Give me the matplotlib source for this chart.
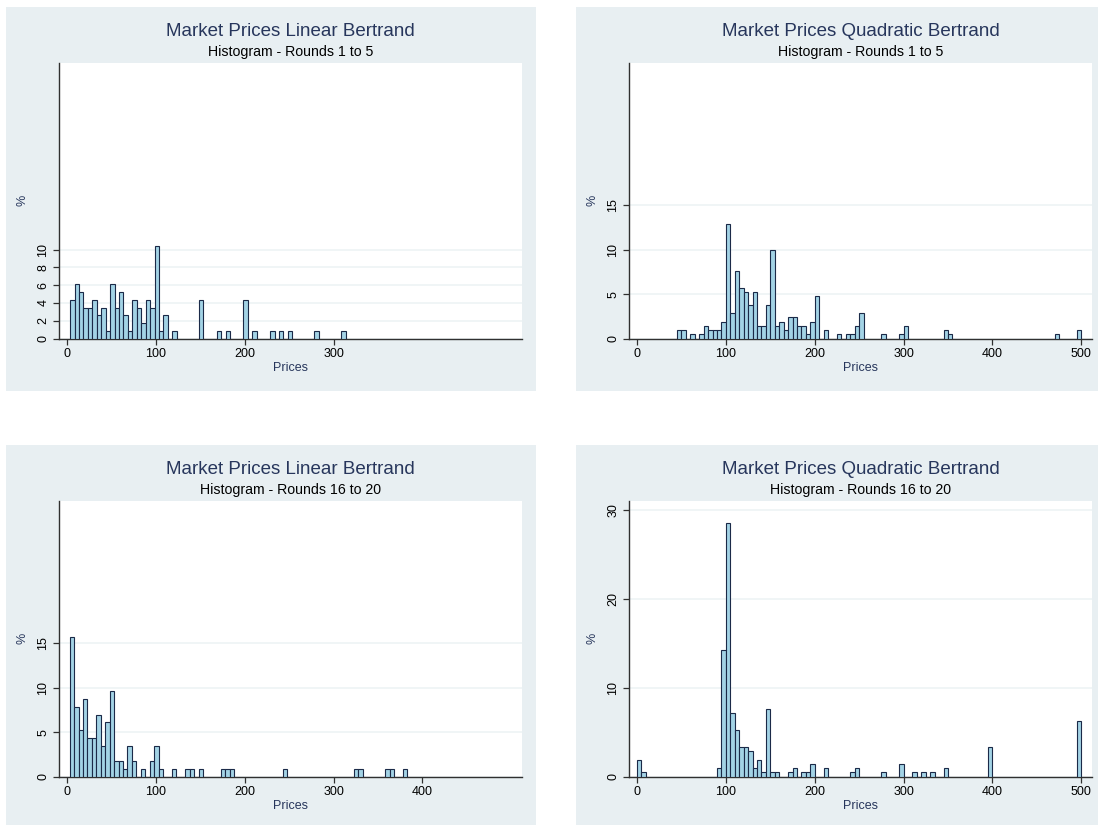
import numpy as np
import matplotlib
matplotlib.use("Agg")
import matplotlib.pyplot as plt
from matplotlib.patches import Rectangle

plt.rcParams['font.family'] = ['Liberation Sans', 'DejaVu Sans']

# Linear Bertrand, rounds 1-5 (115 observations, bins of width 5)
lin_early_left = [3.5, 8.5, 13.5, 18.5, 23.5, 28.5, 33.5, 38.5, 43.5, 48.5,
                  53.5, 58.5, 63.5, 68.5, 73.5, 78.5, 83.5, 88.5, 93.5, 98.5,
                  103.5, 108.5, 118.5, 148.5, 168.5, 178.5, 198.5, 208.5,
                  228.5, 238.5, 248.5, 278.5, 308.5]
lin_early_count = [5, 7, 6, 4, 4, 5, 3, 4, 1, 7,
                   4, 6, 3, 1, 5, 4, 2, 5, 4, 12,
                   1, 3, 1, 5, 1, 1, 5, 1,
                   1, 1, 1, 1, 1]
lin_early_n = 115

# Quadratic Bertrand, rounds 1-5 (210 observations)
quad_early_left = [45, 50, 60, 70, 75, 80, 85, 90, 95, 100,
                   105, 110, 115, 120, 125, 130, 135, 140, 145, 150,
                   155, 160, 165, 170, 175, 180, 185, 190, 195, 200,
                   210, 225, 235, 240, 245, 250, 275, 295, 300, 345,
                   350, 470, 495]
quad_early_count = [2, 2, 1, 1, 3, 2, 2, 2, 4, 27,
                    6, 16, 12, 11, 8, 11, 3, 3, 8, 21,
                    3, 4, 2, 5, 5, 3, 3, 1, 4, 10,
                    2, 1, 1, 1, 3, 6, 1, 1, 3, 2,
                    1, 1, 2]
quad_early_n = 210

# Linear Bertrand, rounds 16-20 (115 observations)
lin_late_left = [3, 8, 13, 18, 23, 28, 33, 38, 43, 48,
                 53, 58, 63, 68, 73, 83, 93, 98, 103, 118,
                 133, 138, 148, 173, 178, 183, 243, 323, 328, 358,
                 363, 378]
lin_late_count = [18, 9, 6, 10, 5, 5, 8, 4, 7, 11,
                  2, 2, 1, 4, 2, 1, 2, 4, 1, 1,
                  1, 1, 1, 1, 1, 1, 1, 1, 1, 1,
                  1, 1]
lin_late_n = 115

# Quadratic Bertrand, rounds 16-20 (210 observations)
quad_late_left = [0, 5, 90, 95, 100, 105, 110, 115, 120, 125,
                  130, 135, 140, 145, 150, 155, 170, 175, 185, 190,
                  195, 210, 240, 245, 275, 295, 310, 320, 330, 345,
                  395, 495]
quad_late_count = [4, 1, 2, 30, 60, 15, 11, 7, 7, 6,
                   2, 4, 1, 16, 1, 1, 1, 2, 1, 1,
                   3, 2, 1, 2, 1, 3, 1, 1, 1, 2,
                   7, 13]
quad_late_n = 210

W, H = 1098, 825
bg = '#e8eff2'
grid_col = '#edf3f5'
fill = '#a3d3e5'
edge = '#1b2a48'
navy = '#27365c'

fig = plt.figure(figsize=(W / 100, H / 100), dpi=100)
fig.patch.set_facecolor('white')


def frac(x0, y0, x1, y1):
    return [x0 / W, 1 - y1 / H, (x1 - x0) / W, (y1 - y0) / H]


panels = [
    (lin_early_left, lin_early_count, lin_early_n, 'Market Prices Linear Bertrand',
     'Histogram - Rounds 1 to 5', [0, 2, 4, 6, 8, 10], [0, 100, 200, 300], 6, 7),
    (quad_early_left, quad_early_count, quad_early_n, 'Market Prices Quadratic Bertrand',
     'Histogram - Rounds 1 to 5', [0, 5, 10, 15], [0, 100, 200, 300, 400, 500], 576, 7),
    (lin_late_left, lin_late_count, lin_late_n, 'Market Prices Linear Bertrand',
     'Histogram - Rounds 16 to 20', [0, 5, 10, 15], [0, 100, 200, 300, 400], 6, 445),
    (quad_late_left, quad_late_count, quad_late_n, 'Market Prices Quadratic Bertrand',
     'Histogram - Rounds 16 to 20', [0, 10, 20, 30], [0, 100, 200, 300, 400, 500], 576, 445),
]

for left, count, n, title, sub, yt, xt, px, py in panels:
    # panel background, kept behind the axes
    fig.patches.append(Rectangle((px / W, 1 - (py + 384) / H), 530 / W, 384 / H,
                                 transform=fig.transFigure, facecolor=bg,
                                 edgecolor='none', zorder=-5))
    ax0 = px + 53
    ax = fig.add_axes(frac(ax0, py + 56, ax0 + 463, py + 331.5))
    ax.set_zorder(2)
    ax.set_facecolor('white')
    pct = np.array(count) / n * 100
    ax.bar(left, pct, width=5, align='edge', color=fill, edgecolor=edge,
           linewidth=0.8, zorder=3)
    ax.set_xlim(-9, 512)
    ax.set_ylim(0, 31)
    ax.set_yticks(yt)
    ax.set_xticks(xt)
    ax.yaxis.grid(True, color=grid_col, linewidth=1.2, zorder=0)
    ax.set_axisbelow(True)
    for s in ['top', 'right']:
        ax.spines[s].set_visible(False)
    for s in ['left', 'bottom']:
        ax.spines[s].set_color('#303030')
        ax.spines[s].set_linewidth(1.0)
    ax.tick_params(length=4, width=0.9, color='#303030', labelsize=9,
                   labelcolor='black', pad=3)
    plt.setp(ax.get_yticklabels(), rotation=90, va='center')
    ax.set_ylabel('%', color=navy, fontsize=9, labelpad=6)
    ax.set_xlabel('Prices', color=navy, fontsize=9, labelpad=1)
    cx = (ax0 + ax0 + 463) / 2
    fig.text(cx / W, 1 - (py + 25) / H, title, color=navy, fontsize=13.5,
             ha='center', va='center')
    fig.text(cx / W, 1 - (py + 45) / H, sub, color='black', fontsize=10.2,
             ha='center', va='center')

fig.savefig('out.png', dpi=100)
